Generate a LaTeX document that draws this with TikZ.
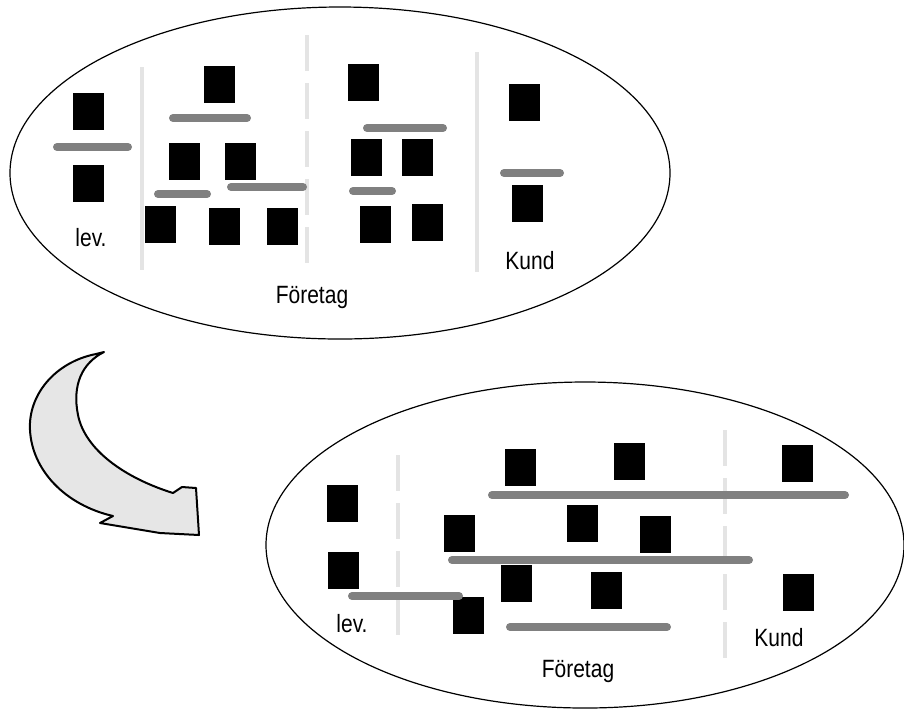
\documentclass[tikz,border=0pt]{standalone}
\usepackage{fontspec}
\newfontfamily\lblfont[FakeStretch=0.84]{Liberation Sans}
\definecolor{linkgray}{RGB}{128,128,128}
\definecolor{sepgray}{RGB}{228,228,228}
\definecolor{arrowfill}{RGB}{230,230,230}

\begin{document}
\begin{tikzpicture}[x=0.5pt, y=-0.5pt,
  blk/.style={rectangle, fill=black, inner sep=0pt, minimum width=15.5pt, minimum height=18.5pt},
  bar/.style={draw=linkgray, line width=4pt, line cap=round},
  sep/.style={draw=sepgray, line width=1.6pt},
  dsep/.style={sep, dash pattern=on 18pt off 6pt},
  org/.style={draw=black, line width=0.6pt},
  lbl/.style={font=\lblfont\fontsize{12.5}{14}\selectfont, inner sep=0pt},
]
\useasboundingbox (0,0) rectangle (904,709);

% --- before: organisation ---
\draw[org] (340,173) ellipse [x radius=330, y radius=166];
\draw[sep]  (142,67) -- (142,270);
\draw[dsep] (307,35) -- (307,268);
\draw[sep]  (477,52) -- (477,272);

% supplier
\node[blk] (tl1) at (88,111.5) {};
\node[blk] (tl2) at (88,183) {};
% company, first part
\node[blk] (ta1) at (219,84) {};
\node[blk] (ta2) at (184.5,161.5) {};
\node[blk] (ta3) at (240.5,161.5) {};
\node[blk] (ta4) at (160,224.5) {};
\node[blk] (ta5) at (224.5,226.5) {};
\node[blk] (ta6) at (282.5,226.5) {};
% company, second part
\node[blk] (tb1) at (363,82) {};
\node[blk] (tb2) at (366.5,157) {};
\node[blk] (tb3) at (417.5,157) {};
\node[blk] (tb4) at (375,224) {};
\node[blk] (tb5) at (427.5,222.5) {};
% customer
\node[blk] (tk1) at (524,102) {};
\node[blk] (tk2) at (527.5,203) {};

\draw[bar] (57,147) -- (128,147);
\draw[bar] (173,118) -- (247,118);
\draw[bar] (158,194) -- (207,194);
\draw[bar] (231,187) -- (303,187);
\draw[bar] (367,128) -- (443,128);
\draw[bar] (353,191) -- (392,191);
\draw[bar] (504,173) -- (560,173);

\node[lbl] (tlev)  at (91,238)  {lev.};
\node[lbl] (tfor)  at (312,297) {Företag};
\node[lbl] (tkund) at (530,261) {Kund};

% --- curved block arrow ---
\filldraw[fill=arrowfill, draw=black, line width=1pt, line join=round]
  (104,352) -- (96,354)
  .. controls (55,362) and (28,395) .. (30,430)
  .. controls (32,470) and (65,505) .. (113,516)
  -- (100,523) -- (160,533) -- (199,535) -- (196,488) -- (182,487) -- (173,493)
  .. controls (125,478) and (85,450) .. (78,415)
  .. controls (72,385) and (82,363) .. (104,352) -- cycle;

% --- after: organisation ---
\draw[org] (585,545) ellipse [x radius=319, y radius=163];
\draw[dsep] (398,455) -- (398,643);
\draw[dsep] (725,430) -- (725,667);

\node[blk] (bl1) at (342.5,503) {};
\node[blk] (bl2) at (343.5,570.5) {};
\node[blk] (bc1) at (468,615.5) {};
\node[blk] (bc2) at (459.5,533) {};
\node[blk] (bc3) at (520.5,467.5) {};
\node[blk] (bc4) at (629,461.5) {};
\node[blk] (bc5) at (582,523) {};
\node[blk] (bc6) at (655.5,534.5) {};
\node[blk] (bc7) at (516.5,583) {};
\node[blk] (bc8) at (606.5,590) {};
\node[blk] (bk1) at (797,463.5) {};
\node[blk] (bk2) at (798.5,592) {};

\draw[bar] (352,596) -- (459,596);
\draw[bar] (492,495) -- (845,495);
\draw[bar] (452,560) -- (749,560);
\draw[bar] (510,627) -- (667,627);

\node[lbl] (blev)  at (352,624) {lev.};
\node[lbl] (bfor)  at (578,671) {Företag};
\node[lbl] (bkund) at (779,638) {Kund};

\end{tikzpicture}
\end{document}
